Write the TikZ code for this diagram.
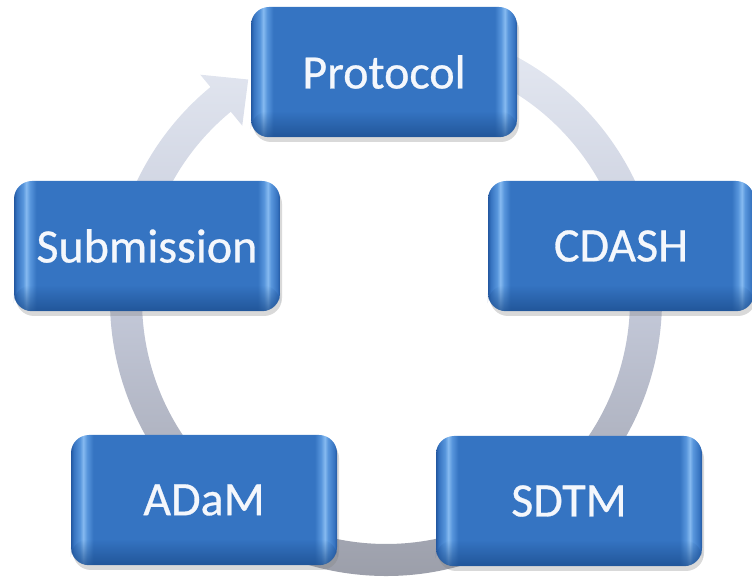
\documentclass[tikz,border=0pt]{standalone}
\usepackage{fontspec}
\setmainfont{Carlito}
\newfontfamily\boxfont{Carlito}[FakeBold=0.6]
\usetikzlibrary{shadows,fadings}
\definecolor{bEdge}{HTML}{2357A0}
\definecolor{bSide}{HTML}{3673C0}
\definecolor{bHi}{HTML}{86BAF0}
\definecolor{bHiB}{HTML}{5896DC}
\definecolor{bBody}{HTML}{3574C2}
\definecolor{bDark}{HTML}{1B4C8C}
\definecolor{ringTop}{HTML}{E6EAF3}
\definecolor{ringMid}{HTML}{C3C8D8}
\definecolor{ringBot}{HTML}{9A9DA8}
\definecolor{txt}{HTML}{F4F7FC}
\pgfdeclarehorizontalshading{boxh}{100bp}{color(0bp)=(bEdge); color(25bp)=(bEdge); color(25.5bp)=(bSide); color(26.7bp)=(bHiB); color(27.3bp)=(bHi); color(28.0bp)=(bHiB); color(29.2bp)=(bBody); color(70.8bp)=(bBody); color(72.0bp)=(bHiB); color(72.7bp)=(bHi); color(73.3bp)=(bHiB); color(74.5bp)=(bSide); color(75bp)=(bEdge); color(100bp)=(bEdge)}
\tikzfading[name=fadebottom, top color=transparent!100, bottom color=transparent!0]
\tikzset{
  cyclebox/.style={shape=rectangle, rounded corners=18pt, minimum width=266pt, minimum height=130pt,
    shade, shading=boxh, inner sep=0pt, text=txt, font=\boxfont\fontsize{48}{52}\selectfont,
    drop shadow={opacity=0.3, shadow xshift=2pt, shadow yshift=-5pt}},
  ringfill/.style={top color=ringTop, bottom color=ringBot, middle color=ringMid},
  bottomrim/.style={fill=bDark, path fading=fadebottom, rounded corners=18pt, fill opacity=0.75}
}
\begin{document}
\begin{tikzpicture}
\useasboundingbox (0pt,0pt) rectangle (752pt,578pt);
\coordinate (ringc) at (386pt,278pt);
\begin{scope}[shift={(ringc)}]
\shade[ringfill] (85:276pt) arc[start angle=85, end angle=-230.5, radius=276pt]
  -- (-230.5:292pt) -- (-238:260pt) -- (-230.5:226pt) -- (-230.5:244pt)
  arc[start angle=-230.5, end angle=85, radius=244pt] -- cycle;
\end{scope}
\node[cyclebox] (protocol) at (384pt,506pt) {Protocol};
\node[cyclebox] (cdash) at (621pt,332pt) {CDASH};
\node[cyclebox] (sdtm) at (569pt,77pt) {SDTM};
\node[cyclebox] (adam) at (204pt,78pt) {ADaM};
\node[cyclebox] (submission) at (147pt,332pt) {Submission};
\foreach \n in {protocol,cdash,sdtm,adam,submission}{
  \fill[bottomrim] (\n.south west) rectangle ([yshift=26pt]\n.south east);
}
\end{tikzpicture}
\end{document}
